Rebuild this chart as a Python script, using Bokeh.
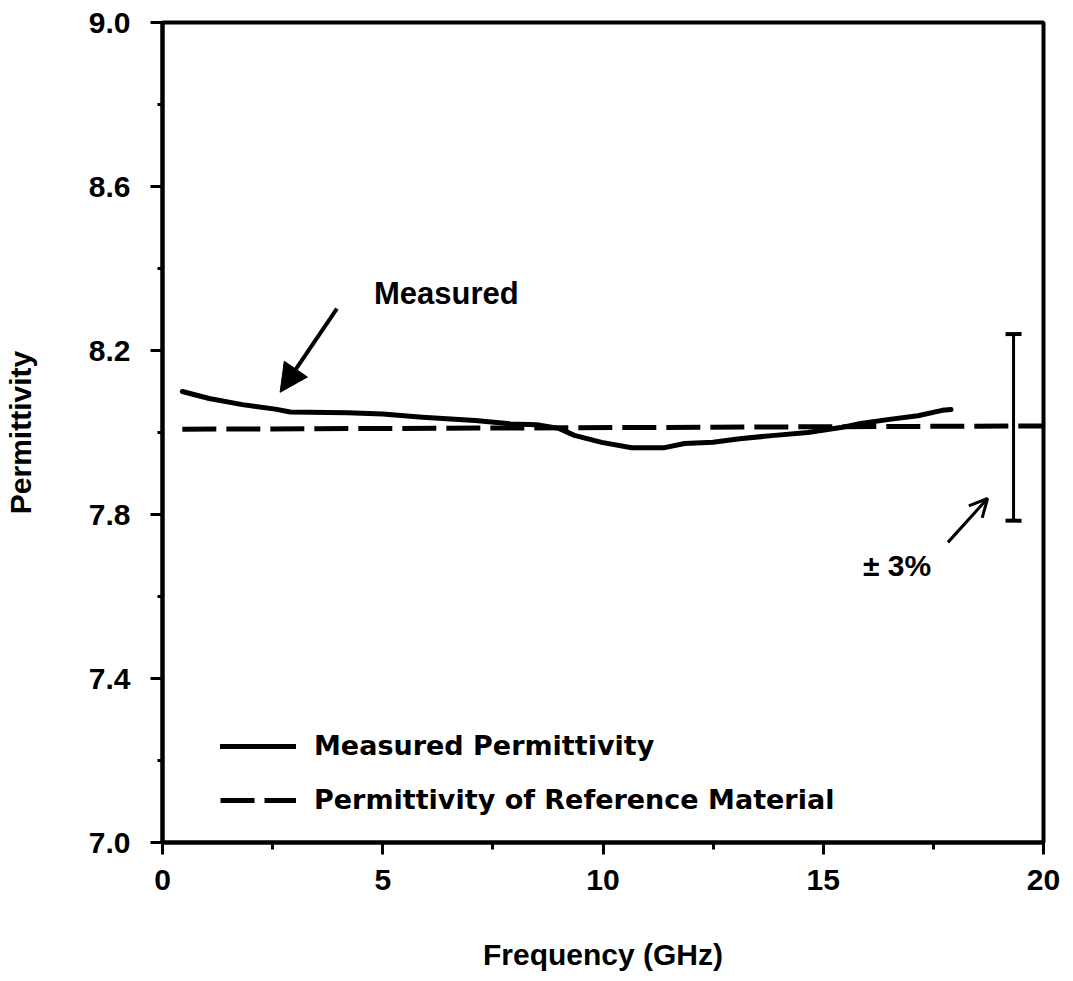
from bokeh.plotting import figure
from bokeh.models import (Range1d, FixedTicker, NumeralTickFormatter, Legend, LegendItem,
                          Arrow, NormalHead, OpenHead, Whisker, TeeHead, ColumnDataSource, Label)
from bokeh.embed import file_html
from bokeh.resources import INLINE

# ---- data ----
freq_ghz = [0.45, 1.06, 1.81, 2.56, 2.9, 4.2, 5.0, 5.9, 7.1, 7.9, 8.5, 9.0, 9.35, 9.97,
            10.65, 11.4, 11.85, 12.5, 13.1, 13.9, 14.65, 15.4, 15.85, 16.5, 17.15, 17.7, 17.9]
measured_perm = [8.100, 8.083, 8.068, 8.057, 8.050, 8.048, 8.045, 8.037, 8.029, 8.021, 8.019,
                 8.010, 7.993, 7.976, 7.963, 7.963, 7.973, 7.976, 7.985, 7.993, 8.000, 8.012,
                 8.022, 8.032, 8.041, 8.054, 8.056]
ref_freq = [0.45, 20.0]
ref_perm = [8.008, 8.016]

errbar_x = [19.32]
errbar_upper = [8.24]
errbar_lower = [7.785]

x_ticks = [0, 5, 10, 15, 20]
x_minor = [2.5, 7.5, 12.5, 17.5]
y_ticks = [7.0, 7.4, 7.8, 8.2, 8.6, 9.0]
y_minor = [7.2, 7.6, 8.0, 8.4, 8.8]

measured_arrow = (3.96, 8.302, 2.67, 8.098)
measured_text = (4.80, 8.339, "Measured")
pct_arrow = (17.83, 7.732, 18.73, 7.839)
pct_text = (15.9, 7.676, "± 3%")

FONT = "Liberation Sans"

p = figure(width=1065, height=973, output_backend="svg", toolbar_location=None,
           x_range=Range1d(0, 20), y_range=Range1d(7.0, 9.0),
           min_border_left=160, min_border_right=22, min_border_top=22, min_border_bottom=131)

p.xgrid.visible = False
p.ygrid.visible = False
p.outline_line_color = "black"
p.outline_line_width = 4
p.background_fill_color = "white"
p.border_fill_color = "white"

p.xaxis.ticker = FixedTicker(ticks=x_ticks, minor_ticks=x_minor)
p.yaxis.ticker = FixedTicker(ticks=y_ticks, minor_ticks=y_minor)
p.yaxis.formatter = NumeralTickFormatter(format="0.0")
p.xaxis.formatter = NumeralTickFormatter(format="0")

for ax in (p.xaxis[0], p.yaxis[0]):
    ax.axis_line_width = 4
    ax.axis_line_color = "black"
    ax.major_tick_line_width = 3
    ax.major_tick_line_color = "black"
    ax.minor_tick_line_width = 3
    ax.minor_tick_line_color = "black"
    ax.major_tick_in = 0
    ax.major_tick_out = 12
    ax.minor_tick_in = 0
    ax.minor_tick_out = 7
    ax.major_label_text_font = FONT
    ax.major_label_text_font_style = "bold"
    ax.major_label_text_font_size = "30px"
    ax.major_label_text_color = "black"
    ax.axis_label_text_font = FONT
    ax.axis_label_text_font_style = "bold"
    ax.axis_label_text_font_size = "30px"
    ax.axis_label_text_color = "black"

p.yaxis.minor_tick_out = 5
p.xaxis.axis_label = "Frequency (GHz)"
p.yaxis.axis_label = "Permittivity"
p.xaxis.major_label_standoff = 15
p.yaxis.major_label_standoff = 20
p.xaxis.axis_label_standoff = 45
p.yaxis.axis_label_standoff = 49

r_meas = p.line(freq_ghz, measured_perm, line_color="black", line_width=5, line_join="round", line_cap="round")
r_ref = p.line(ref_freq, ref_perm, line_color="black", line_width=5, line_dash="34 10")

# error bar ±3%
src = ColumnDataSource(dict(x=errbar_x, upper=errbar_upper, lower=errbar_lower))
p.add_layout(Whisker(source=src, base="x", upper="upper", lower="lower", dimension="height",
                     line_width=3, line_color="black",
                     upper_head=TeeHead(size=16, line_width=4, line_color="black"),
                     lower_head=TeeHead(size=16, line_width=4, line_color="black")))

# annotations
p.add_layout(Arrow(x_start=measured_arrow[0], y_start=measured_arrow[1],
                   x_end=measured_arrow[2], y_end=measured_arrow[3], line_width=4,
                   end=NormalHead(size=28, fill_color="black", line_color="black", line_width=1)))
p.add_layout(Label(x=measured_text[0], y=measured_text[1], text=measured_text[2],
                   text_font=FONT, text_font_style="bold", text_font_size="31px",
                   text_color="black", text_baseline="middle", text_align="left"))
p.add_layout(Arrow(x_start=pct_arrow[0], y_start=pct_arrow[1],
                   x_end=pct_arrow[2], y_end=pct_arrow[3], line_width=3,
                   end=OpenHead(size=18, line_width=3, line_color="black")))
p.add_layout(Label(x=pct_text[0], y=pct_text[1], text=pct_text[2],
                   text_font=FONT, text_font_style="bold", text_font_size="30px",
                   text_color="black", text_baseline="middle", text_align="left"))

legend = Legend(items=[LegendItem(label="Measured Permittivity", renderers=[r_meas]),
                       LegendItem(label="Permittivity of Reference Material", renderers=[r_ref])],
                location=(58, 27), orientation="vertical",
                glyph_width=76, glyph_height=30, label_height=30, spacing=23,
                label_standoff=18, padding=0, margin=0,
                label_text_font="DejaVu Sans", label_text_font_style="bold",
                label_text_font_size="27px", label_text_color="black",
                border_line_alpha=0, background_fill_alpha=0)
p.add_layout(legend)

open("out.html", "w").write(file_html(p, INLINE))
